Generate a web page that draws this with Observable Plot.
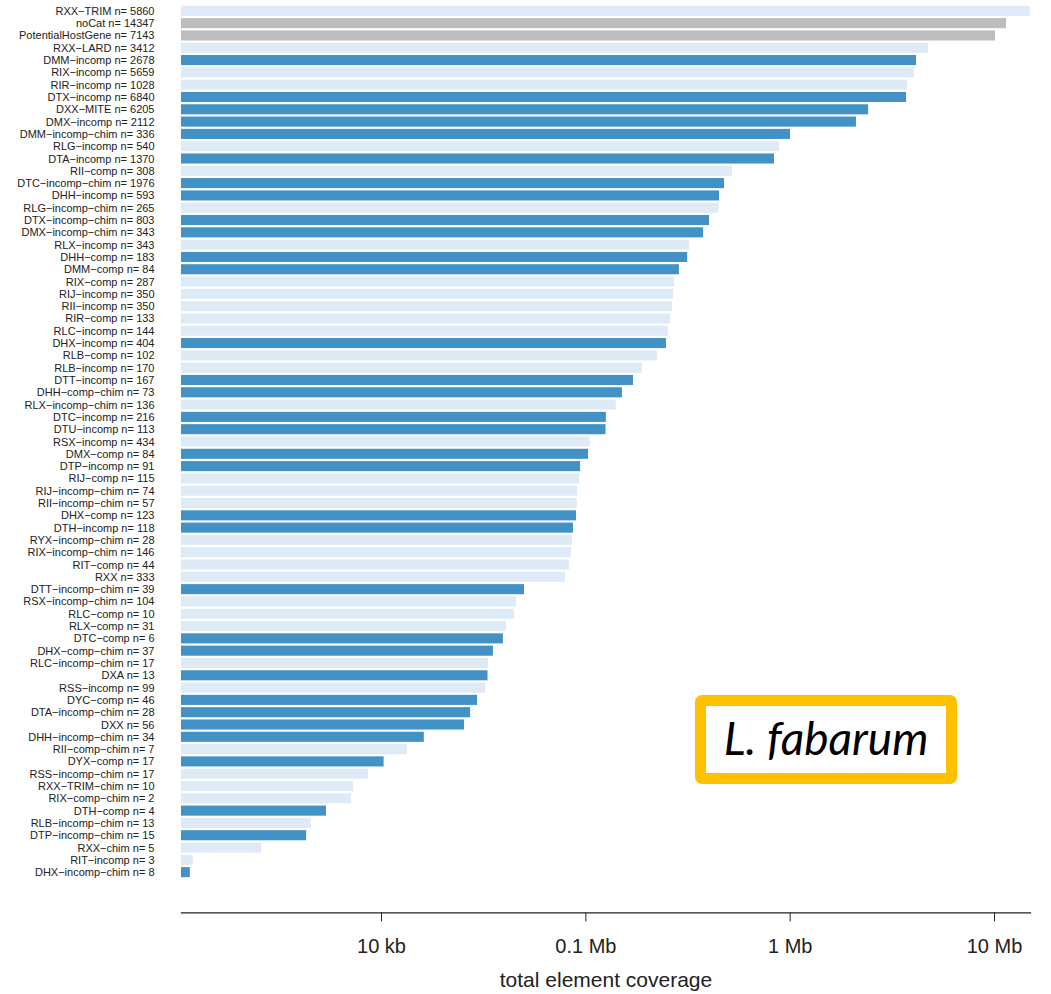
<!DOCTYPE html>
<html>
<head>
<meta charset="utf-8">
<script src="https://cdn.jsdelivr.net/npm/d3@7"></script>
<script src="https://cdn.jsdelivr.net/npm/@observablehq/plot@0.6"></script>
<style>
  html, body { margin: 0; padding: 0; background: #fff; }
  #wrap { position: relative; width: 1051px; height: 994px; overflow: hidden; }
  #wrap svg { display: block; }
  #species {
    position: absolute; left: 695px; top: 695px; width: 262px; height: 89px;
    box-sizing: border-box; border: 11px solid #FFC000; border-radius: 7px; background: #fff;
    display: flex; align-items: center; justify-content: center;
    font-family: Lato, "Open Sans", sans-serif; font-style: italic; font-size: 46px; color: #000;
    padding-bottom: 4px;
  }
</style>
</head>
<body>
<div id="wrap"><div id="species">L. fabarum</div></div>
<script>
const names = [
  "RXX-TRIM","noCat","PotentialHostGene","RXX-LARD","DMM-incomp","RIX-incomp","RIR-incomp",
  "DTX-incomp","DXX-MITE","DMX-incomp","DMM-incomp-chim","RLG-incomp","DTA-incomp","RII-comp",
  "DTC-incomp-chim","DHH-incomp","RLG-incomp-chim","DTX-incomp-chim","DMX-incomp-chim","RLX-incomp",
  "DHH-comp","DMM-comp","RIX-comp","RIJ-incomp","RII-incomp","RIR-comp","RLC-incomp","DHX-incomp",
  "RLB-comp","RLB-incomp","DTT-incomp","DHH-comp-chim","RLX-incomp-chim","DTC-incomp","DTU-incomp",
  "RSX-incomp","DMX-comp","DTP-incomp","RIJ-comp","RIJ-incomp-chim","RII-incomp-chim","DHX-comp",
  "DTH-incomp","RYX-incomp-chim","RIX-incomp-chim","RIT-comp","RXX","DTT-incomp-chim",
  "RSX-incomp-chim","RLC-comp","RLX-comp","DTC-comp","DHX-comp-chim","RLC-incomp-chim","DXA",
  "RSS-incomp","DYC-comp","DTA-incomp-chim","DXX","DHH-incomp-chim","RII-comp-chim","DYX-comp",
  "RSS-incomp-chim","RXX-TRIM-chim","RIX-comp-chim","DTH-comp","RLB-incomp-chim","DTP-incomp-chim",
  "RXX-chim","RIT-incomp","DHX-incomp-chim"
];
const counts = [
  5860,14347,7143,3412,2678,5659,1028,
  6840,6205,2112,336,540,1370,308,
  1976,593,265,803,343,343,
  183,84,287,350,350,133,144,404,
  102,170,167,73,136,216,113,
  434,84,91,115,74,57,123,
  118,28,146,44,333,39,
  104,10,31,6,37,17,13,
  99,46,28,56,34,7,17,
  17,10,2,4,13,15,
  5,3,8
];
// total element coverage in bp
const coverage = [
  15000000,11450000,10120000,4750000,4150000,4060000,3750000,
  3710000,2420000,2110000,1004000,887000,838000,522000,
  477000,451000,448000,403000,377000,322000,
  315000,287000,272000,269000,266000,260000,254000,248000,
  224000,189000,171000,151000,141000,126000,125500,
  105000,103000,94200,93100,91000,90800,90000,
  87000,86000,85100,83200,79500,50100,
  45800,44800,40900,39500,35300,33400,33200,
  32300,29500,27300,25500,16200,13400,10300,
  8640,7290,7130,5380,4540,4300,
  2590,1200,1160
];
const tickValues = [1e4, 1e5, 1e6, 1e7];
const tickLabels = ["10 kb", "0.1 Mb", "1 Mb", "10 Mb"];
const groups = ["DNA", "RNA", "other"];
const groupColors = ["#4292c6", "#deebf7", "#bdbdbd"];
const xMin = 1050, xMax = 15000000;

const data = names.map((n, i) => ({
  label: `${n} n= ${counts[i]}`,
  value: coverage[i],
  group: n[0] === "D" ? "DNA" : n[0] === "R" ? "RNA" : "other"
}));

const axisGap = 33;
const chart = Plot.plot({
  width: 1051,
  height: 994,
  marginLeft: 181,
  marginRight: 21,
  marginTop: 3.6,
  marginBottom: 114.6,
  style: { fontFamily: "'Liberation Sans', Arial, sans-serif", background: "transparent", color: "#222" },
  x: { type: "log", domain: [xMin, xMax] },
  y: { domain: data.map(d => d.label), padding: 0.18, round: false },
  color: { domain: groups, range: groupColors },
  marks: [
    Plot.barX(data, { x1: xMin, x2: "value", y: "label", fill: "group" }),
    Plot.frame({ anchor: "bottom", stroke: "#222", strokeWidth: 1.3, dy: axisGap }),
    Plot.axisY({ tickSize: 0, tickPadding: 27, fontSize: 11, label: null,
      tickFormat: d => d.replace(/-/g, "\u2212") }),
    Plot.axisX({ ticks: tickValues, tickFormat: d => tickLabels[tickValues.indexOf(d)],
      tickSize: 9, tickPadding: 17, fontSize: 20, label: null, dy: axisGap }),
    Plot.text(["total element coverage"], { frameAnchor: "bottom", dy: 100, fontSize: 21, lineAnchor: "middle" })
  ]
});
document.getElementById("wrap").prepend(chart);
</script>
</body>
</html>
